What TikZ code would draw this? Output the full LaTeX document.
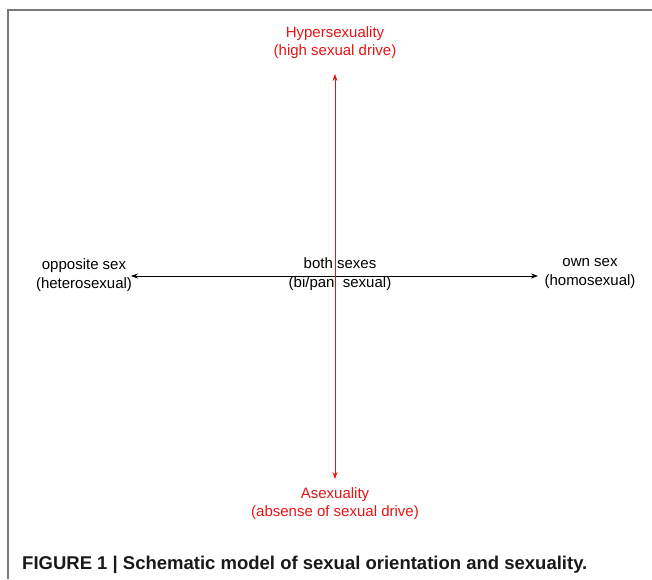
\documentclass[tikz,border=0pt]{standalone}
\usepackage{fontspec}
\setmainfont{Liberation Sans}
\usepackage{tikz}
\usetikzlibrary{positioning,calc,arrows.meta}
\definecolor{axred}{RGB}{230,20,20}
\definecolor{framegray}{RGB}{120,120,120}
\tikzset{axlab/.style={align=center, inner sep=1pt, font=\fontsize{15}{18.5}\selectfont}}
\tikzset{redlab/.style={axlab, text=axred}}
\tikzset{arrh/.style={draw, {Stealth[length=7pt,width=5pt]}-{Stealth[length=7pt,width=5pt]}, line width=0.7pt}}
\tikzset{arrv/.style={arrh, axred}}

\begin{document}
\begin{tikzpicture}[x=1pt, y=-1pt]
	\useasboundingbox (0,0) rectangle (652,579);
	% frame
	\draw[framegray, line width=2pt] (7.5,579) -- (7.5,10) -- (652,10);

	\node[redlab] (hyper) at (335, 42.5) {Hypersexuality\\(high sexual drive)};
	\node[redlab] (asex) at (335, 503.5) {Asexuality\\(absense of sexual drive)};
	\node[axlab] (opp) at (84, 275) {opposite sex\\(heterosexual)};
	\node[axlab] (own) at (590, 273.5) {own sex\\(homosexual)};
	\node[axlab] (both) at (340, 274) {both sexes\\(bi/pan\ \ sexual)};

	\coordinate (left) at (131, 276);
	\coordinate (right) at (538, 276);
	\coordinate (top) at (335, 74);
	\coordinate (bot) at (335, 479);
	\draw[arrh] (left) -- (right);
	\draw[arrv] (top) -- (bot);

	\node[anchor=base west, inner sep=0pt,
		font=\fontsize{18.5}{20}\bfseries\selectfont, text=black!90] (cap)
		at (22, 569) {FIGURE 1 | Schematic model of sexual orientation and sexuality.};
\end{tikzpicture}
\end{document}
